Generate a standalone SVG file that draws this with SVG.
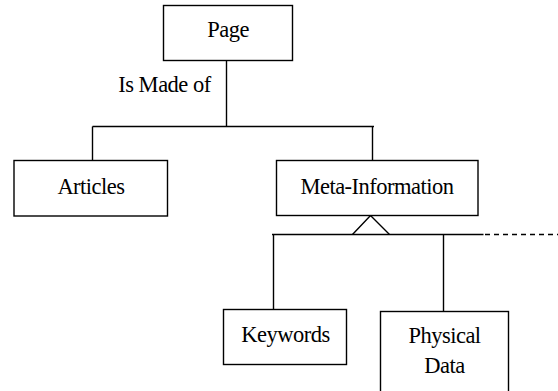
<svg xmlns="http://www.w3.org/2000/svg" width="558" height="391" viewBox="0 0 558 391">
  <style>
    .box { fill: #fff; stroke: #000; stroke-width: 1.4; }
    .line { fill: none; stroke: #000; stroke-width: 1.4; }
    .dash { fill: none; stroke: #000; stroke-width: 1.4; stroke-dasharray: 5 4; }
    text { font-family: "Liberation Serif", "Times New Roman", serif; font-size: 22.5px; fill: #000; text-anchor: middle; letter-spacing: -0.5px; }
  </style>
  <rect width="558" height="391" fill="#fff"/>

  <g id="connectors">
    <!-- Page to its parts -->
    <line class="line" x1="226.5" y1="60.5" x2="226.5" y2="126.5"/>
    <line class="line" x1="92.5" y1="126.5" x2="374" y2="126.5"/>
    <line class="line" x1="92.5" y1="126.5" x2="92.5" y2="160.5"/>
    <line class="line" x1="372.5" y1="126.5" x2="372.5" y2="160.5"/>
    <!-- Meta-Information generalisation -->
    <polyline class="line" points="352.5,234.5 370.5,215.5 389.5,234.5"/>
    <line class="line" x1="272" y1="234.5" x2="483.5" y2="234.5"/>
    <line class="dash" x1="485" y1="234.5" x2="558" y2="234.5"/>
    <line class="line" x1="273.5" y1="234.5" x2="273.5" y2="309.5"/>
    <line class="line" x1="443.5" y1="234.5" x2="443.5" y2="311.5"/>
    <text x="164.5" y="92">Is Made of</text>
  </g>

  <g id="page">
    <rect class="box" x="163.5" y="5.5" width="129" height="55"/>
    <text x="228" y="37">Page</text>
  </g>

  <g id="articles">
    <rect class="box" x="14" y="160.5" width="153.5" height="55.5"/>
    <text x="91" y="194">Articles</text>
  </g>

  <g id="meta-information">
    <rect class="box" x="276.5" y="160.5" width="201.5" height="55"/>
    <text x="377" y="194">Meta-Information</text>
  </g>

  <g id="keywords">
    <rect class="box" x="223.5" y="309.5" width="123" height="55"/>
    <text x="285.5" y="342">Keywords</text>
  </g>

  <g id="physical-data">
    <rect class="box" x="380.5" y="311.5" width="128" height="90"/>
    <text x="444.5" y="343">Physical</text>
    <text x="444.5" y="373">Data</text>
  </g>
</svg>
